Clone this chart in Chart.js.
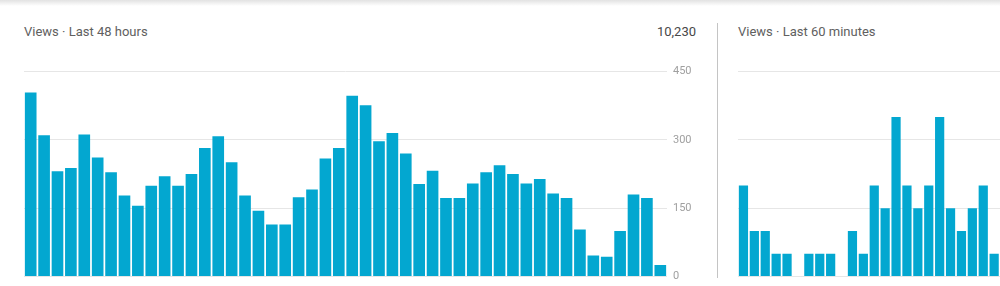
<!DOCTYPE html>
<html>
<head>
<meta charset="utf-8">
<script src="https://cdn.jsdelivr.net/npm/chart.js@4/dist/chart.umd.min.js"></script>
<style>
  body { margin: 0; width: 1000px; height: 286px; overflow: hidden; background: #fff; font-family: Roboto, Arial, sans-serif; position: relative; }
  .shadow { position: absolute; left: 0; top: 0; width: 1000px; height: 6px; background: linear-gradient(#e2e2e2, #ffffff); }
  .title { position: absolute; top: 24px; font-size: 13px; color: #606060; white-space: nowrap; }
  .total { position: absolute; top: 24px; right: 304px; font-size: 13px; color: #484848; }
  .divider { position: absolute; left: 717px; top: 23px; width: 1px; height: 255px; background: #c4c4c4; }
  .box { position: absolute; top: 59px; height: 230px; }
</style>
</head>
<body>
<div class="shadow"></div>
<div class="title" style="left:24px">Views · Last 48 hours</div>
<div class="total">10,230</div>
<div class="divider"></div>
<div class="title" style="left:738px">Views · Last 60 minutes</div>
<div class="box" style="left:24px; width:676px"><canvas id="hours-chart"></canvas></div>
<div class="box" style="left:738px; width:687px"><canvas id="minutes-chart"></canvas></div>
<script>
// views per hour, oldest first
const hourLabels = [];
for (let i = 48; i >= 1; i--) hourLabels.push(i + ' h ago');
const hourViews = [404, 310, 231, 238, 312, 261, 229, 178, 155, 199,
                   220, 199, 225, 282, 308, 251, 178, 144, 114, 114,
                   174, 191, 259, 282, 397, 376, 297, 315, 270, 203,
                   232, 172, 172, 204, 229, 244, 225, 204, 214, 182,
                   172, 103, 46, 43, 100, 180, 172, 25];
const hourTicks = [0, 150, 300, 450];

// views per minute, only the part that is visible in the picture
const minuteLabels = [];
for (let i = 60; i >= 1; i--) minuteLabels.push(i + ' min ago');
const minuteViews = [4, 2, 2, 1, 1, 0, 1, 1, 1, 0, 2, 1, 4, 3, 7, 4, 3, 4, 7, 3, 2, 3, 4, 1];
const minuteTicks = [0, 3, 6, 9];

const barColor = 'rgb(3, 167, 208)';

function makeChart(id, labels, values, ticks, barPct) {
  const ctx = document.getElementById(id).getContext('2d');
  return new Chart(ctx, {
    type: 'bar',
    data: {
      labels: labels,
      datasets: [{
        data: values,
        backgroundColor: barColor,
        barPercentage: barPct,
        categoryPercentage: 1,
        borderWidth: 0
      }]
    },
    options: {
      responsive: true,
      maintainAspectRatio: false,
      animation: false,
      layout: { padding: 0 },
      plugins: { legend: { display: false }, tooltip: { enabled: false } },
      scales: {
        x: { display: false },
        y: {
          position: 'right',
          min: ticks[0],
          max: ticks[ticks.length - 1],
          afterBuildTicks: axis => { axis.ticks = ticks.map(v => ({ value: v })); },
          afterFit: axis => { axis.width = 33; },
          border: { display: false },
          grid: { color: '#e6e6e6', lineWidth: 1, drawTicks: false },
          ticks: {
            padding: 6,
            color: '#a0a0a0',
            font: { family: 'Roboto', size: 11 }
          }
        }
      }
    }
  });
}

makeChart('hours-chart', hourLabels, hourViews, hourTicks, 0.87);
makeChart('minutes-chart', minuteLabels, minuteViews, minuteTicks, 0.845);
</script>
</body>
</html>
